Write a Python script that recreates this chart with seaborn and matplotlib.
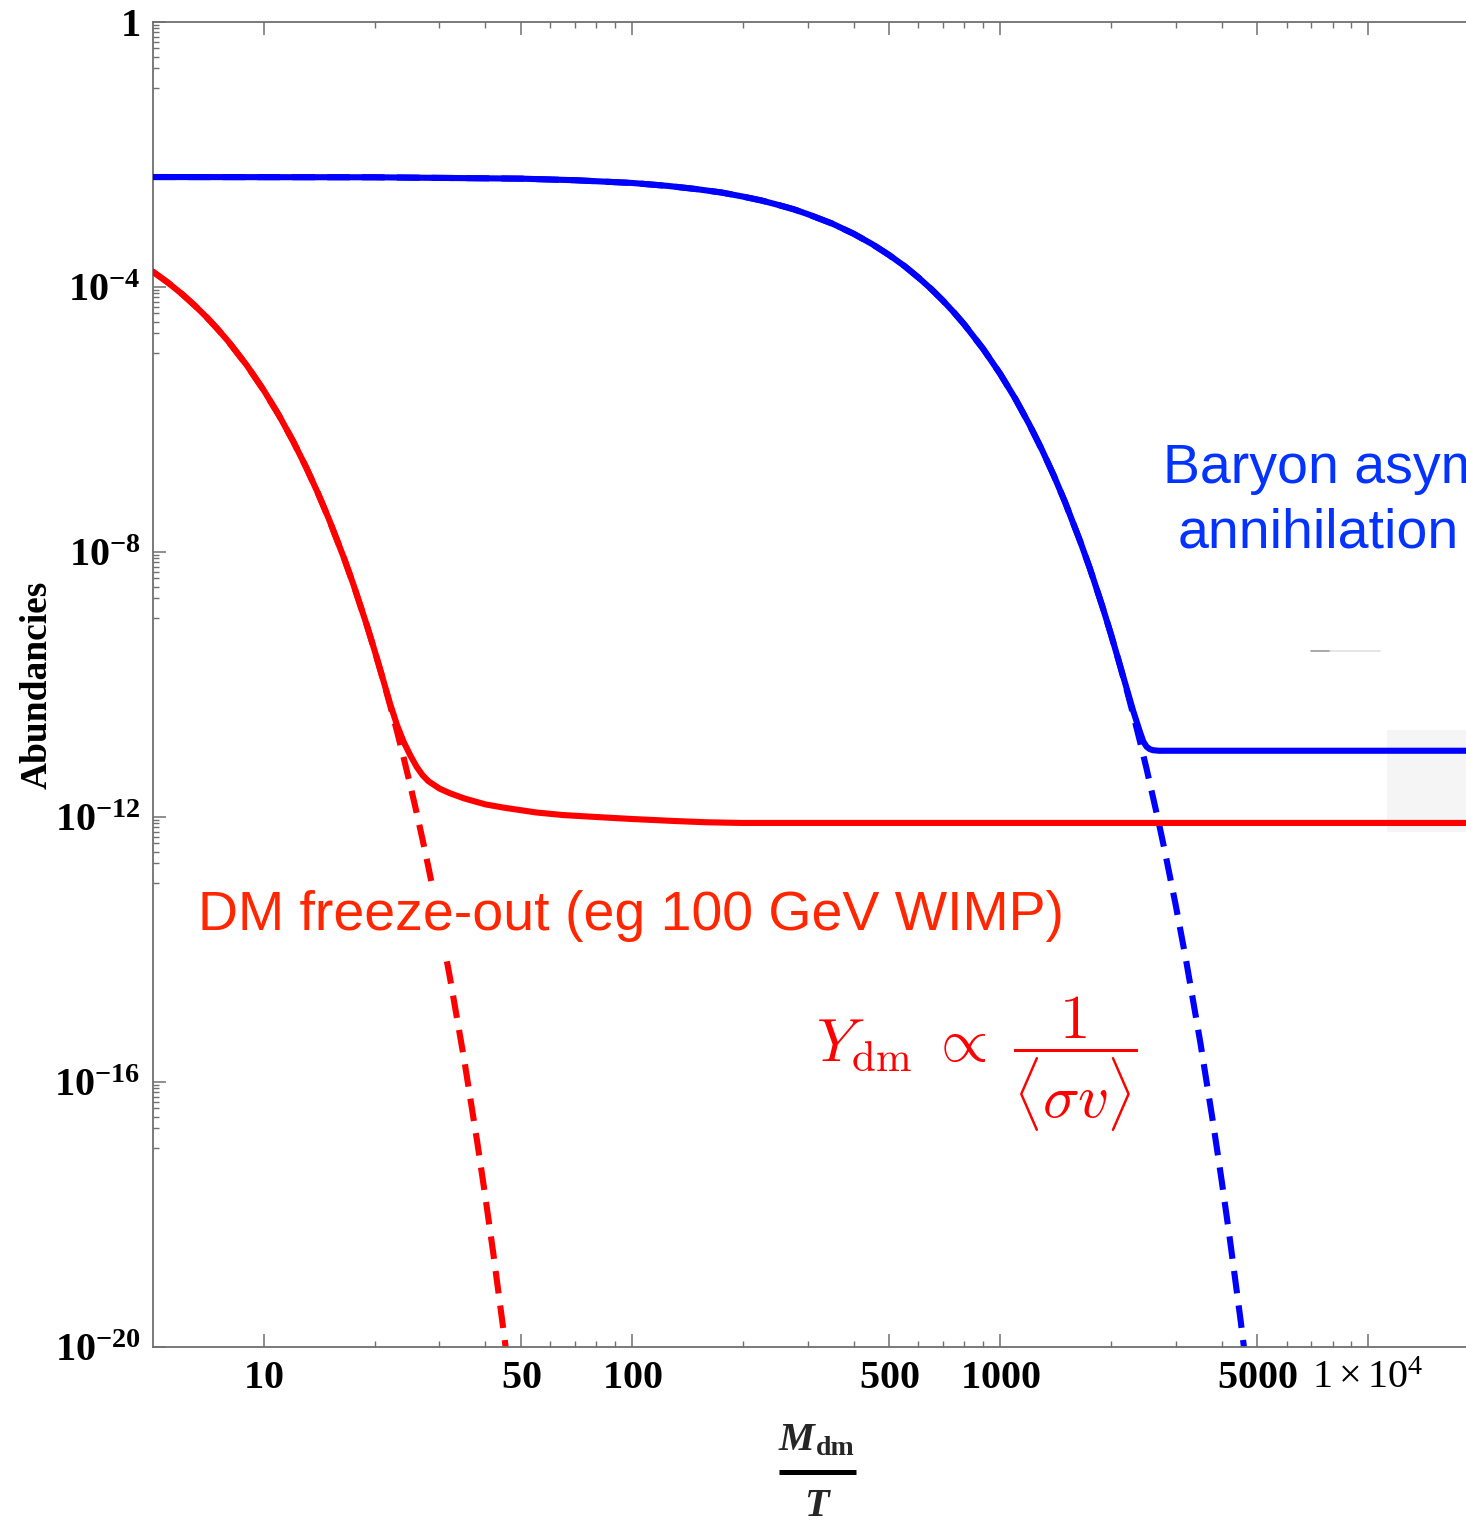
import numpy as np
import pandas as pd
import matplotlib
matplotlib.use("Agg")
import matplotlib.pyplot as plt
import seaborn as sns
from matplotlib.ticker import FixedLocator, FixedFormatter, NullFormatter
from matplotlib.lines import Line2D
from matplotlib.patches import Rectangle

# ---------------- data ----------------
# DM (red) : solid = actual abundance, dashed = equilibrium
red_x = [5, 5.5, 6, 6.5, 7, 7.5, 8, 9, 10, 11, 12, 13, 14, 15, 16.5, 17.5, 19, 20,
         21, 22, 23, 24, 25, 26, 27, 28, 30, 32, 35, 40, 45, 55, 65, 80, 100, 130,
         160, 200, 1000, 20000]
red_y = [1.70e-4, 1.156e-4, 7.80e-5, 5.22e-5, 3.48e-5, 2.30e-5, 1.52e-5, 6.52e-6,
         2.75e-6, 1.15e-6, 4.75e-7, 1.95e-7, 7.94e-8, 3.21e-8, 8.18e-9, 3.27e-9,
         8.18e-10, 3.24e-10, 1.28e-10, 5.25e-11, 2.45e-11, 1.35e-11, 8.51e-12,
         5.75e-12, 4.27e-12, 3.47e-12, 2.69e-12, 2.29e-12, 1.91e-12, 1.55e-12,
         1.38e-12, 1.17e-12, 1.07e-12, 1.0e-12, 9.33e-13, 8.71e-13, 8.32e-13,
         8.13e-13, 8.13e-13, 8.13e-13]
red_eq_x = [5, 5.5, 6, 6.5, 7, 7.5, 8, 9, 10, 11, 12, 13, 14, 15, 16.5, 17.5, 19, 20,
            21, 22, 23, 24, 25, 26, 27, 28, 30, 32, 35, 38, 40, 42, 45, 47]
red_eq_y = [1.70e-4, 1.156e-4, 7.80e-5, 5.22e-5, 3.48e-5, 2.30e-5, 1.52e-5, 6.52e-6,
            2.75e-6, 1.15e-6, 4.75e-7, 1.95e-7, 7.94e-8, 3.21e-8, 8.18e-9, 3.27e-9,
            8.18e-10, 3.24e-10, 1.28e-10, 5.0e-11, 1.97e-11, 7.69e-12, 3.0e-12,
            1.17e-12, 4.53e-13, 1.75e-13, 2.63e-14, 3.89e-15, 2.21e-16, 1.24e-17,
            1.80e-18, 2.62e-19, 1.45e-20, 2.08e-21]

# Baryon (blue) : solid = actual abundance, dashed = equilibrium
blue_x = [5, 20, 50, 70, 100, 125, 150, 175, 200, 225, 250, 275, 300, 350, 400, 450,
          500, 550, 600, 650, 700, 750, 800, 900, 1000, 1100, 1200, 1300, 1400, 1500,
          1650, 1750, 1800, 1900, 2000, 2100, 2200, 2300, 2400, 2450, 2500, 2550,
          2600, 2700, 20000]
blue_y = [4.57e-3, 4.53e-3, 4.32e-3, 4.09e-3, 3.72e-3, 3.36e-3, 3.00e-3, 2.67e-3,
          2.32e-3, 2.02e-3, 1.73e-3, 1.49e-3, 1.26e-3, 9.06e-4, 6.37e-4, 4.42e-4,
          3.03e-4, 2.07e-4, 1.39e-4, 9.33e-5, 6.21e-5, 4.11e-5, 2.71e-5, 1.16e-5,
          4.92e-6, 2.06e-6, 8.49e-7, 3.48e-7, 1.42e-7, 5.74e-8, 1.46e-8, 5.85e-9,
          3.66e-9, 1.46e-9, 5.78e-10, 2.28e-10, 9.3e-11, 3.98e-11, 1.91e-11,
          1.38e-11, 1.15e-11, 1.06e-11, 1.02e-11, 1.0e-11, 1.0e-11]
blue_eq_x = [5, 20, 50, 70, 100, 125, 150, 175, 200, 225, 250, 275, 300, 350, 400, 450,
             500, 550, 600, 650, 700, 750, 800, 900, 1000, 1100, 1200, 1300, 1400,
             1500, 1650, 1750, 1800, 1900, 2000, 2100, 2200, 2300, 2400, 2500, 2700,
             2800, 3000, 3200, 3500, 3800, 4000, 4200, 4500, 4700]
blue_eq_y = [4.57e-3, 4.53e-3, 4.32e-3, 4.09e-3, 3.72e-3, 3.36e-3, 3.00e-3, 2.67e-3,
             2.32e-3, 2.02e-3, 1.73e-3, 1.49e-3, 1.26e-3, 9.06e-4, 6.37e-4, 4.42e-4,
             3.03e-4, 2.07e-4, 1.39e-4, 9.33e-5, 6.21e-5, 4.11e-5, 2.71e-5, 1.16e-5,
             4.92e-6, 2.06e-6, 8.49e-7, 3.48e-7, 1.42e-7, 5.74e-8, 1.46e-8, 5.85e-9,
             3.66e-9, 1.46e-9, 5.78e-10, 2.28e-10, 8.96e-11, 3.51e-11, 1.37e-11,
             5.36e-12, 8.09e-13, 3.13e-13, 4.69e-14, 6.95e-15, 3.94e-16, 2.21e-17,
             3.22e-18, 4.69e-19, 2.58e-20, 3.72e-21]

x_major = [10, 50, 100, 500, 1000, 5000, 10000]
x_major_labels = [r"$\mathbf{10}$", r"$\mathbf{50}$", r"$\mathbf{100}$", r"$\mathbf{500}$",
                  r"$\mathbf{1000}$", r"$\mathbf{5000}$", r"$1\times10^{4}$"]
x_minor = [20, 30, 40, 60, 70, 80, 90, 200, 300, 400, 600, 700, 800, 900,
           2000, 3000, 4000, 6000, 7000, 8000, 9000]
y_major = [1e-20, 1e-16, 1e-12, 1e-8, 1e-4, 1]
y_major_labels = [r"$\mathbf{10^{-20}}$", r"$\mathbf{10^{-16}}$", r"$\mathbf{10^{-12}}$",
                  r"$\mathbf{10^{-8}}$", r"$\mathbf{10^{-4}}$", r"$\mathbf{1}$"]

# ---------------- style ----------------
sns.set_theme(style="white")
plt.rcParams.update({
    "font.family": ["Liberation Serif", "DejaVu Sans"],
    "mathtext.fontset": "custom",
    "mathtext.rm": "Liberation Serif",
    "mathtext.bf": "Liberation Serif:bold",
    "mathtext.it": "Liberation Serif:italic:bold",
})

W, H = 1466, 1524
fig = plt.figure(figsize=(W / 100, H / 100), dpi=100)
fig.patch.set_facecolor("white")
ax = fig.add_axes([153 / W, 1 - 1347 / H, (1479 - 153) / W, (1347 - 22) / H])
ax.set_facecolor("white")
ax.set_xscale("log")
ax.set_yscale("log")

RED = "#ff0000"
BLUE = "#0000ff"
LW = 4.4
DASH = [3.7, 2.0]

# faint background artefacts of the original image
ax.add_patch(Rectangle((1387 / W, 1 - 832 / H), (1466 - 1387) / W, 102 / H,
                       transform=fig.transFigure, facecolor="#f5f5f5",
                       edgecolor="none", zorder=0.5))
ax.add_line(Line2D([1311 / W, 1330 / W], [1 - 651 / H, 1 - 651 / H],
                   transform=fig.transFigure, color="#9a9a9a", lw=1.2, zorder=0.6))
ax.add_line(Line2D([1330 / W, 1380 / W], [1 - 651 / H, 1 - 651 / H],
                   transform=fig.transFigure, color="#e2e2e2", lw=1.2, zorder=0.6))

# dashed equilibrium curves
df_req = pd.DataFrame({"x": red_eq_x, "y": red_eq_y})
sns.lineplot(data=df_req, x="x", y="y", color=RED, lw=LW, ax=ax, sort=False,
             estimator=None)
ax.lines[-1].set_dashes(DASH)
ax.lines[-1].set_dash_capstyle("butt")
df_beq = pd.DataFrame({"x": blue_eq_x, "y": blue_eq_y})
sns.lineplot(data=df_beq, x="x", y="y", color=BLUE, lw=LW, ax=ax, sort=False,
             estimator=None)
ax.lines[-1].set_dashes(DASH)
ax.lines[-1].set_dash_capstyle("butt")

# solid abundances
df_red = pd.DataFrame({"x": red_x, "y": red_y})
sns.lineplot(data=df_red, x="x", y="y", color=RED, lw=LW, ax=ax, sort=False,
             estimator=None, zorder=3)
ax.lines[-1].set_solid_joinstyle("round")
df_blue = pd.DataFrame({"x": blue_x, "y": blue_y})
sns.lineplot(data=df_blue, x="x", y="y", color=BLUE, lw=LW, ax=ax, sort=False,
             estimator=None, zorder=3)
ax.lines[-1].set_solid_joinstyle("round")

ax.set_xlim(5, 20000)
ax.set_ylim(1e-20, 1)

# ticks
ax.xaxis.set_major_locator(FixedLocator(x_major))
ax.xaxis.set_major_formatter(FixedFormatter(x_major_labels))
ax.xaxis.set_minor_locator(FixedLocator(x_minor))
ax.xaxis.set_minor_formatter(NullFormatter())
y_minor = [k * m / 10 for m in y_major[1:] for k in range(1, 10)]
ax.yaxis.set_major_locator(FixedLocator(y_major))
ax.yaxis.set_major_formatter(FixedFormatter(y_major_labels))
ax.yaxis.set_minor_locator(FixedLocator(y_minor))
ax.yaxis.set_minor_formatter(NullFormatter())

SPC = "#707070"
ax.tick_params(which="both", direction="in", top=True, right=False,
               bottom=True, left=True, colors=SPC, labelcolor="black")
ax.tick_params(which="major", length=9.5, width=1.1, labelsize=29)
ax.tick_params(which="minor", length=4, width=1.0)
ax.tick_params(axis="x", which="major", pad=9)
ax.tick_params(axis="y", which="major", pad=9)
for s in ["left", "top", "bottom"]:
    ax.spines[s].set_color(SPC)
    ax.spines[s].set_linewidth(1.3)
ax.spines["right"].set_visible(False)
ax.grid(False)

# axis labels
ax.set_xlabel("")
ax.set_ylabel("Abundancies", fontsize=27, fontweight="bold",
              family="Liberation Serif", color="black")
ax.yaxis.set_label_coords(-0.074, 0.5)

fig.text(779 / W, 1 - 1450 / H, "M", fontsize=29, fontweight="bold",
         fontstyle="italic", family="Liberation Serif", ha="left", va="baseline")
fig.text(816 / W, 1 - 1455 / H, "dm", fontsize=20, fontweight="bold",
         family="Liberation Serif", ha="left", va="baseline")
fig.add_artist(Line2D([779 / W, 856 / W], [1 - 1472 / H, 1 - 1472 / H],
                      color="black", lw=3.6, solid_capstyle="butt"))
fig.text(816 / W, 1 - 1516 / H, "T", fontsize=29, fontweight="bold",
         fontstyle="italic", family="Liberation Serif", ha="center", va="baseline")

# annotations
tr = fig.transFigure
ax.text(198 / W, 1 - 930 / H, "DM freeze-out (eg 100 GeV WIMP)", transform=tr,
        fontsize=40, family="Liberation Sans", color="#ff2600", ha="left",
        va="baseline", zorder=5,
        bbox=dict(facecolor="white", edgecolor="none", pad=6))
ax.text(1163 / W, 1 - 483 / H, "Baryon asym", transform=tr,
        fontsize=40, family="Liberation Sans", color="#0433ff", ha="left",
        va="baseline", zorder=5, clip_on=False)
ax.text(1178 / W, 1 - 548 / H, "annihilation", transform=tr,
        fontsize=40, family="Liberation Sans", color="#0433ff", ha="left",
        va="baseline", zorder=5, clip_on=False)
ax.text(816 / W, 1 - 1062 / H,
        r"$Y_{\rm dm}\;\propto\;\dfrac{1}{\langle\sigma v\rangle}$",
        transform=tr, fontsize=44, color="#ff0000", ha="left", va="baseline",
        math_fontfamily="cm", zorder=5)

fig.savefig("out.png", dpi=100, facecolor="white")
